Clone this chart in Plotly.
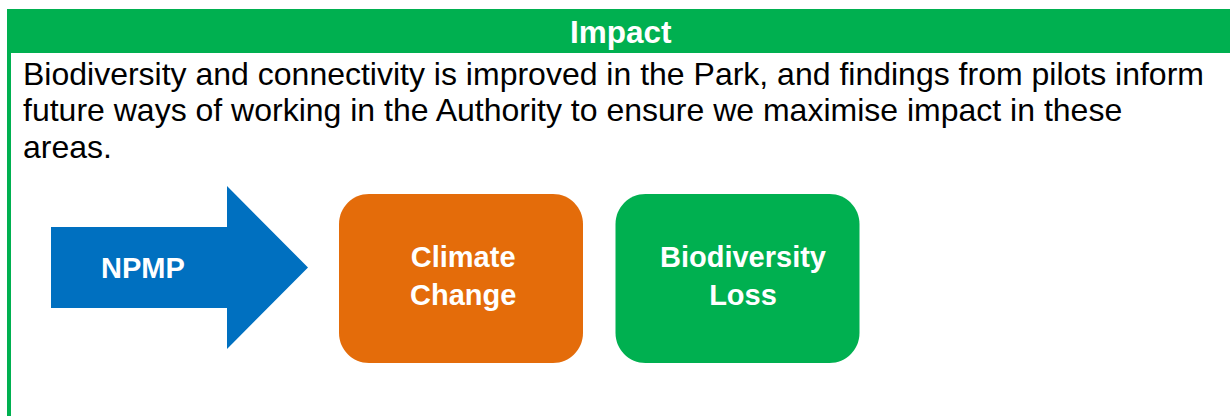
import plotly.graph_objects as go

# ---- content ----
title_text = "Impact"
body_lines = [
    "Biodiversity and connectivity is improved in the Park, and findings from pilots inform",
    "future ways of working in the Authority to ensure we maximise impact in these",
    "areas.",
]
arrow_label = "NPMP"
box_labels = ["Climate<br>Change", "Biodiversity<br>Loss"]
box_colors = ["#E46C0A", "#00B050"]

W, H = 1230, 416
GREEN = "#00B050"
BLUE = "#0070C0"
FONT = "Liberation Sans, Arial, sans-serif"

fig = go.Figure()

shapes = []
# header band
shapes.append(dict(type="rect", x0=7, x1=1230, y0=9, y1=53, fillcolor=GREEN, line_width=0, layer="below"))
# left border
shapes.append(dict(type="rect", x0=7, x1=11, y0=53, y1=416, fillcolor=GREEN, line_width=0, layer="below"))

# arrow
ax0, ay0, ay1, hx, hy0, hy1, tx, ty = 51, 227, 308, 227, 186, 349, 308, 267.5
arrow_path = f"M {ax0},{ay0} L {hx},{ay0} L {hx},{hy0} L {tx},{ty} L {hx},{hy1} L {hx},{ay1} L {ax0},{ay1} Z"
shapes.append(dict(type="path", path=arrow_path, fillcolor=BLUE, line_width=0, layer="below"))


def rounded_rect(x0, y0, x1, y1, r):
    k = 0.5523 * r
    return (
        f"M {x0 + r},{y0} L {x1 - r},{y0} "
        f"C {x1 - r + k},{y0} {x1},{y0 + r - k} {x1},{y0 + r} "
        f"L {x1},{y1 - r} "
        f"C {x1},{y1 - r + k} {x1 - r + k},{y1} {x1 - r},{y1} "
        f"L {x0 + r},{y1} "
        f"C {x0 + r - k},{y1} {x0},{y1 - r + k} {x0},{y1 - r} "
        f"L {x0},{y0 + r} "
        f"C {x0},{y0 + r - k} {x0 + r - k},{y0} {x0 + r},{y0} Z"
    )


box_x = [(339, 583), (615.5, 859.5)]
box_y = (194, 363)
for (bx0, bx1), col in zip(box_x, box_colors):
    shapes.append(dict(type="path", path=rounded_rect(bx0, box_y[0], bx1, box_y[1], 30),
                       fillcolor=col, line_width=0, layer="below"))

annotations = []
annotations.append(dict(x=621, y=32, text=f"<b>{title_text}</b>", showarrow=False,
                        xanchor="center", yanchor="middle",
                        font=dict(family=FONT, size=31.5, color="white")))
line_y = [73.5, 110, 146.5]
for txt, yy in zip(body_lines, line_y):
    annotations.append(dict(x=21, y=yy, text=txt, showarrow=False, xanchor="left", yanchor="middle",
                            font=dict(family=FONT, size=32, color="black")))
annotations.append(dict(x=143, y=268, text=f"<b>{arrow_label}</b>", showarrow=False,
                        xanchor="center", yanchor="middle",
                        font=dict(family=FONT, size=29, color="white")))
box_cx = [463, 743]
for lbl, cx in zip(box_labels, box_cx):
    annotations.append(dict(x=cx, y=276, text="<b>" + lbl + "</b>", showarrow=False,
                            xanchor="center", yanchor="middle",
                            font=dict(family=FONT, size=29, color="white")))

fig.update_layout(
    width=W, height=H,
    margin=dict(l=0, r=0, t=0, b=0),
    paper_bgcolor="white", plot_bgcolor="white",
    xaxis=dict(range=[0, W], visible=False, fixedrange=True),
    yaxis=dict(range=[H, 0], visible=False, fixedrange=True),
    shapes=shapes, annotations=annotations, showlegend=False,
)

fig.write_html("out.html", config={"displayModeBar": False},
               post_script="document.body.style.margin='0';document.body.style.padding='0';")
